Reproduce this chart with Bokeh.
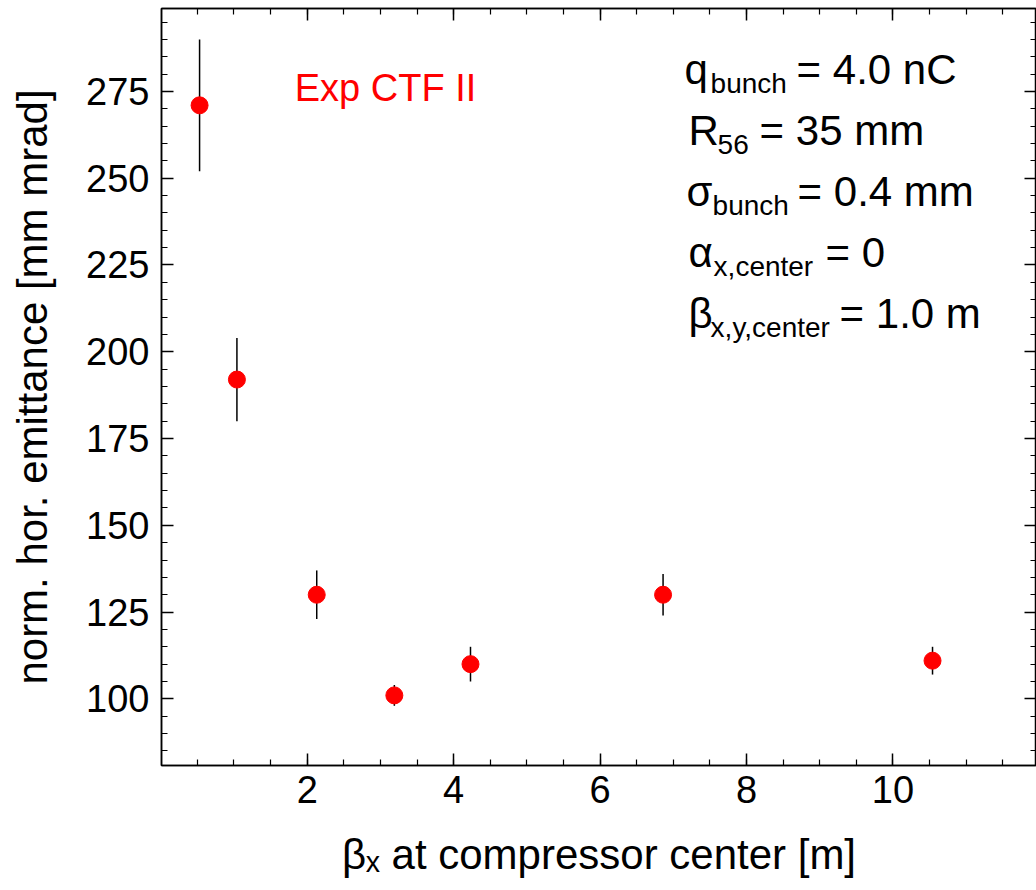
from bokeh.plotting import figure
from bokeh.models import (Range1d, SingleIntervalTicker, LinearAxis, ColumnDataSource,
                          CustomJSTickFormatter)
from bokeh.core.properties import value
from bokeh.embed import file_html
from bokeh.resources import INLINE

# ---- data ----
beta_x = [0.53, 1.04, 2.13, 3.19, 4.23, 6.86, 10.54]
emittance = [271, 192, 130, 101, 110, 130, 111]
err_low = [252, 180, 123, 98, 105, 124, 107]
err_high = [290, 204, 137, 104, 115, 136, 115]

x_label = "\u03b2\u2093 at compressor center [m]"
y_label = "norm. hor. emittance [mm mrad]"
series_label = "Exp CTF II"

# annotation block (symbol, subscript, rest)
ann_lines = [
    ("q", "bunch", "= 4.0 nC"),
    ("R", "56", "= 35 mm"),
    ("\u03c3", "bunch", "= 0.4 mm"),
    ("\u03b1", "x,center", "= 0"),
    ("\u03b2", "x,y,center", "= 1.0 m"),
]
# pixel offsets for layout of annotation pieces
sym_dx = [0, 4, 2, 4, 4]
sub_dx = [26, 33, 28, 29, 26]
rest_dx = [112, 75, 113, 141, 155]
line_gap = 61
sub_drop = 14

FONT = "Liberation Sans"

p = figure(width=1036, height=890, output_backend="svg", toolbar_location=None,
           x_range=Range1d(0.01, 11.96), y_range=Range1d(80.8, 298.9),
           min_border_left=161, min_border_right=0, min_border_top=8,
           min_border_bottom=125, background_fill_color="white",
           border_fill_color="white")
p.xgrid.visible = False
p.ygrid.visible = False
p.outline_line_color = "black"
p.outline_line_width = 1.5

xt = SingleIntervalTicker(interval=2, num_minor_ticks=4)
yt = SingleIntervalTicker(interval=25, num_minor_ticks=5)
p.xaxis.ticker = xt
p.yaxis.ticker = yt

for ax in (p.xaxis[0], p.yaxis[0]):
    ax.major_tick_in = 12
    ax.major_tick_out = 0
    ax.minor_tick_in = 6
    ax.minor_tick_out = 0
    ax.axis_line_width = 1.5
    ax.major_tick_line_width = 1.5
    ax.minor_tick_line_width = 1.2
    ax.major_label_text_font = FONT
    ax.major_label_text_font_size = "38px"
    ax.major_label_text_color = "black"
    ax.axis_label_text_font = FONT
    ax.axis_label_text_font_size = "42px"
    ax.axis_label_text_font_style = "normal"
    ax.axis_label_text_color = "black"

p.xaxis.axis_label = x_label
p.yaxis.axis_label = y_label
p.xaxis.major_label_standoff = 10
p.xaxis.axis_label_standoff = 25
p.yaxis.major_label_standoff = 12
p.yaxis.axis_label_standoff = 27

blank = CustomJSTickFormatter(code="return ''")
for loc, tk in (("above", xt), ("right", yt)):
    a = LinearAxis(ticker=tk, formatter=blank, major_tick_in=12, major_tick_out=0,
                   minor_tick_in=6, minor_tick_out=0, major_label_standoff=0,
                   major_label_text_font_size="4px", axis_line_width=1.5,
                   major_tick_line_width=1.5, minor_tick_line_width=1.2)
    p.add_layout(a, loc)

src = ColumnDataSource(dict(x=beta_x, y=emittance, lo=err_low, hi=err_high))
p.segment(x0="x", y0="lo", x1="x", y1="hi", source=src, line_color="black",
          line_width=1.5)
p.scatter(x="x", y="y", source=src, size=17, fill_color="#ff0000",
          line_color="#ff0000")

p.text(x=[1.83], y=[275.9], text=[series_label], text_color="#ff0000",
       text_font=value(FONT), text_font_size="38px",
       text_baseline="alphabetic", text_align="left")

ax0, ay0 = 7.154, 281.4
mx, my, mt = [], [], []
sx, sy, st = [], [], []
m_xoff, m_yoff, s_xoff, s_yoff = [], [], [], []
for i, (sym, sub, rest) in enumerate(ann_lines):
    for t, dx in ((sym, sym_dx[i]), (rest, rest_dx[i])):
        mx.append(ax0); my.append(ay0); mt.append(t)
        m_xoff.append(dx); m_yoff.append(i * line_gap)
    sx.append(ax0); sy.append(ay0); st.append(sub)
    s_xoff.append(sub_dx[i]); s_yoff.append(i * line_gap + sub_drop)

p.text(x=mx, y=my, text=mt, x_offset=m_xoff, y_offset=m_yoff,
       text_font=value(FONT), text_font_size="42px", text_color="black",
       text_baseline="alphabetic", text_align="left")
p.text(x=sx, y=sy, text=st, x_offset=s_xoff, y_offset=s_yoff,
       text_font=value(FONT), text_font_size="28px", text_color="black",
       text_baseline="alphabetic", text_align="left")

open("out.html", "w").write(file_html(p, INLINE))
